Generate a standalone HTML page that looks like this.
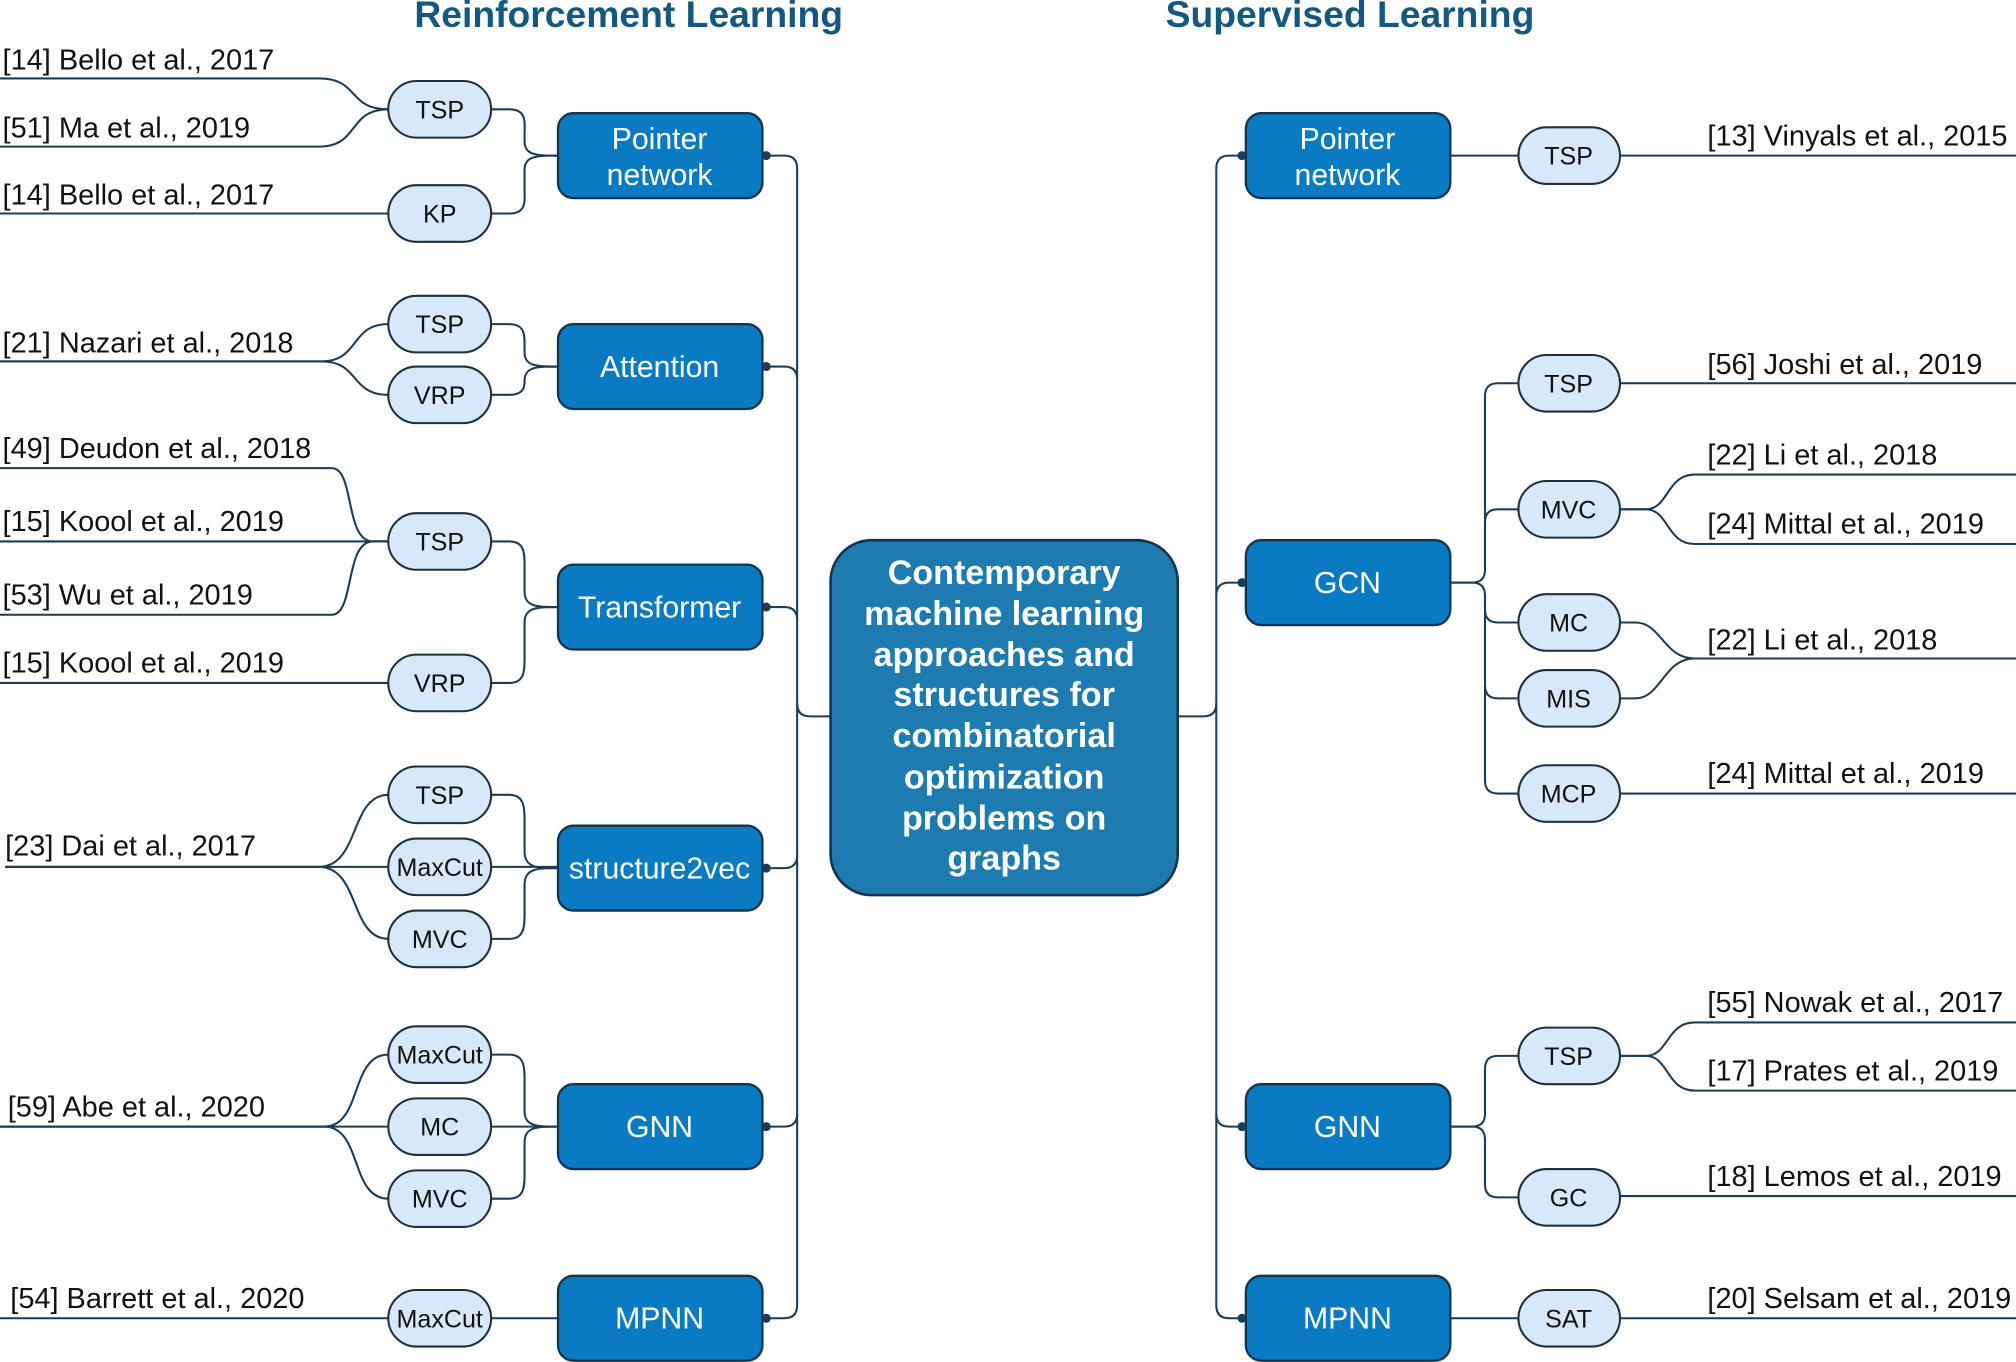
<!DOCTYPE html>
<html><head><meta charset="utf-8"><style>
html,body{margin:0;padding:0;background:#fff}
svg{display:block}
text{font-family:"Liberation Sans",Arial,sans-serif}
.ref{font-size:22.5px;fill:#111}
.nt{font-size:19.5px;fill:#111;text-anchor:middle}
.bt{font-size:23.5px;fill:#fff;text-anchor:middle}
.ln{fill:none;stroke:#1c3c56;stroke-width:1.6}
.node{fill:#d7e8fa;stroke:#1c3040;stroke-width:1.6}
.box{fill:#0a7bc2;stroke:#14344e;stroke-width:1.8}
</style></head><body>
<svg width="2016" height="1362" viewBox="0 0 1568 1059" preserveAspectRatio="none">
<text x="489" y="21" text-anchor="middle" style="font-size:29px;font-weight:bold;fill:#14577f">Reinforcement Learning</text>
<text x="1050" y="21" text-anchor="middle" style="font-size:29px;font-weight:bold;fill:#14577f">Supervised Learning</text>

<g class="ln">
<path d="M0,61 H248 C280,61 270,85 302,85"/>
<path d="M0,114 H248 C280,114 270,85 302,85"/>
<path d="M0,166 H302"/>
<path d="M0,281 H250 C280,281 272,252 302,252"/>
<path d="M0,281 H250 C280,281 272,307 302,307"/>
<path d="M0,364 H258 C276,364 268,421 290,421 H302"/>
<path d="M0,421 H302"/>
<path d="M0,478 H258 C276,478 268,421 290,421 H302"/>
<path d="M0,531 H302"/>
<path d="M4,674 H248 C280,674 272,618 302,618"/>
<path d="M4,674 H302"/>
<path d="M4,674 H248 C280,674 272,730 302,730"/>
<path d="M0,876 H252 C282,876 272,820 302,820"/>
<path d="M0,876 H302"/>
<path d="M0,876 H252 C282,876 272,932 302,932"/>
<path d="M0,1025 H302"/>
<path d="M382,85 H396 C410,85 408,95 408,105 V110 C408,121 418,121 434,121"/>
<path d="M382,166 H396 C410,166 408,156 408,146 V132 C408,121 418,121 434,121"/>
<path d="M382,252 H396 C408,252 408,260 408,268 V274 C408,285 418,285 434,285"/>
<path d="M382,307 H396 C408,307 408,300 408,296 V296 C408,285 418,285 434,285"/>
<path d="M382,421 H396 C408,421 408,430 408,440 V460 C408,472 418,472 434,472"/>
<path d="M382,531 H396 C408,531 408,522 408,510 V484 C408,472 418,472 434,472"/>
<path d="M382,618 H396 C408,618 408,628 408,640 V662 C408,675 418,675 434,675"/>
<path d="M382,674 H434"/>
<path d="M382,730 H396 C408,730 408,720 408,710 V688 C408,675 418,675 434,675"/>
<path d="M382,820 H396 C408,820 408,830 408,840 V864 C408,876 418,876 434,876"/>
<path d="M382,876 H434"/>
<path d="M382,932 H396 C408,932 408,922 408,912 V888 C408,876 418,876 434,876"/>
<path d="M382,1025 H434"/>
<path d="M596,121 H610 Q620,121 620,131 V1015 Q620,1025 610,1025 H596"/>
<path d="M596,285 H610 Q620,285 620,295"/>
<path d="M596,472 H610 Q620,472 620,482"/>
<path d="M596,675 H610 Q620,675 620,665"/>
<path d="M596,876 H610 Q620,876 620,866"/>
<path d="M620,547 Q620,557 630,557 H646"/>
<path d="M966,121 H956 Q946,121 946,131 V1015 Q946,1025 956,1025 H966"/>
<path d="M966,453 H956 Q946,453 946,463"/>
<path d="M966,876 H956 Q946,876 946,866"/>
<path d="M916,557 H936 Q946,557 946,547"/>
<path d="M1128,121 H1181"/>
<path d="M1128,453 H1145 Q1155,453 1155,443 V308 Q1155,298 1165,298 H1181"/>
<path d="M1155,406 Q1155,396 1165,396 H1181"/>
<path d="M1128,453 H1145 Q1155,453 1155,463 V607 Q1155,617 1165,617 H1181"/>
<path d="M1155,474 Q1155,484 1165,484 H1181"/>
<path d="M1155,533 Q1155,543 1165,543 H1181"/>
<path d="M1128,876 H1145 Q1155,876 1155,866 V831 Q1155,821 1165,821 H1181"/>
<path d="M1128,876 H1145 Q1155,876 1155,886 V921 Q1155,931 1165,931 H1181"/>
<path d="M1128,1025 H1181"/>
<path d="M1260,121 H1568"/>
<path d="M1260,298 H1568"/>
<path d="M1260,396 H1280 C1298,396 1296,369 1318,369 H1568"/>
<path d="M1260,396 H1280 C1298,396 1296,423 1318,423 H1568"/>
<path d="M1260,484 H1272 C1292,484 1294,512 1318,512 H1568"/>
<path d="M1260,543 H1272 C1292,543 1294,512 1318,512"/>
<path d="M1260,617 H1568"/>
<path d="M1260,821 H1280 C1298,821 1296,795 1318,795 H1568"/>
<path d="M1260,821 H1280 C1298,821 1296,848 1318,848 H1568"/>
<path d="M1260,930 H1568"/>
<path d="M1260,1025 H1568"/>
</g>

<g fill="#1c3c56">
<circle cx="596" cy="121" r="3.5"/><circle cx="596" cy="285" r="3.5"/><circle cx="596" cy="472" r="3.5"/>
<circle cx="596" cy="675" r="3.5"/><circle cx="596" cy="876" r="3.5"/><circle cx="596" cy="1025" r="3.5"/>
<circle cx="966" cy="121" r="3.5"/><circle cx="966" cy="453" r="3.5"/><circle cx="966" cy="876" r="3.5"/><circle cx="966" cy="1025" r="3.5"/>
</g>

<g class="ref">
<text x="2" y="54">[14] Bello et al., 2017</text>
<text x="2" y="107">[51] Ma et al., 2019</text>
<text x="2" y="159">[14] Bello et al., 2017</text>
<text x="2" y="274">[21] Nazari et al., 2018</text>
<text x="2" y="356">[49] Deudon et al., 2018</text>
<text x="2" y="413">[15] Koool et al., 2019</text>
<text x="2" y="470">[53] Wu et al., 2019</text>
<text x="2" y="523">[15] Koool et al., 2019</text>
<text x="4" y="665">[23] Dai et al., 2017</text>
<text x="6" y="868">[59] Abe et al., 2020</text>
<text x="8" y="1017">[54] Barrett et al., 2020</text>
<text x="1328" y="113">[13] Vinyals et al., 2015</text>
<text x="1328" y="291">[56] Joshi et al., 2019</text>
<text x="1328" y="361">[22] Li et al., 2018</text>
<text x="1328" y="415">[24] Mittal et al., 2019</text>
<text x="1328" y="505">[22] Li et al., 2018</text>
<text x="1328" y="609">[24] Mittal et al., 2019</text>
<text x="1328" y="787">[55] Nowak et al., 2017</text>
<text x="1328" y="840">[17] Prates et al., 2019</text>
<text x="1328" y="922">[18] Lemos et al., 2019</text>
<text x="1328" y="1017">[20] Selsam et al., 2019</text>
</g>

<g>
<rect class="node" x="302" y="63" width="80" height="44" rx="22"/><text class="nt" x="342" y="92">TSP</text>
<rect class="node" x="302" y="144" width="80" height="44" rx="22"/><text class="nt" x="342" y="173">KP</text>
<rect class="node" x="302" y="230" width="80" height="44" rx="22"/><text class="nt" x="342" y="259">TSP</text>
<rect class="node" x="302" y="285" width="80" height="44" rx="22"/><text class="nt" x="342" y="314">VRP</text>
<rect class="node" x="302" y="399" width="80" height="44" rx="22"/><text class="nt" x="342" y="428">TSP</text>
<rect class="node" x="302" y="509" width="80" height="44" rx="22"/><text class="nt" x="342" y="538">VRP</text>
<rect class="node" x="302" y="596" width="80" height="44" rx="22"/><text class="nt" x="342" y="625">TSP</text>
<rect class="node" x="302" y="652" width="80" height="44" rx="22"/><text class="nt" x="342" y="681">MaxCut</text>
<rect class="node" x="302" y="708" width="80" height="44" rx="22"/><text class="nt" x="342" y="737">MVC</text>
<rect class="node" x="302" y="798" width="80" height="44" rx="22"/><text class="nt" x="342" y="827">MaxCut</text>
<rect class="node" x="302" y="854" width="80" height="44" rx="22"/><text class="nt" x="342" y="883">MC</text>
<rect class="node" x="302" y="910" width="80" height="44" rx="22"/><text class="nt" x="342" y="939">MVC</text>
<rect class="node" x="302" y="1003" width="80" height="44" rx="22"/><text class="nt" x="342" y="1032">MaxCut</text>
</g>
<g>
<rect class="node" x="1181" y="99" width="79" height="44" rx="22"/><text class="nt" x="1220" y="128">TSP</text>
<rect class="node" x="1181" y="276" width="79" height="44" rx="22"/><text class="nt" x="1220" y="305">TSP</text>
<rect class="node" x="1181" y="374" width="79" height="44" rx="22"/><text class="nt" x="1220" y="403">MVC</text>
<rect class="node" x="1181" y="462" width="79" height="44" rx="22"/><text class="nt" x="1220" y="491">MC</text>
<rect class="node" x="1181" y="521" width="79" height="44" rx="22"/><text class="nt" x="1220" y="550">MIS</text>
<rect class="node" x="1181" y="595" width="79" height="44" rx="22"/><text class="nt" x="1220" y="624">MCP</text>
<rect class="node" x="1181" y="799" width="79" height="44" rx="22"/><text class="nt" x="1220" y="828">TSP</text>
<rect class="node" x="1181" y="909" width="79" height="44" rx="22"/><text class="nt" x="1220" y="938">GC</text>
<rect class="node" x="1181" y="1003" width="79" height="44" rx="22"/><text class="nt" x="1220" y="1032">SAT</text>
</g>

<rect class="box" x="434" y="88" width="159" height="66" rx="12"/><text class="bt" x="513" y="116">Pointer</text><text class="bt" x="513" y="144">network</text>
<rect class="box" x="434" y="252" width="159" height="66" rx="12"/><text class="bt" x="513" y="293">Attention</text>
<rect class="box" x="434" y="439" width="159" height="66" rx="12"/><text class="bt" x="513" y="480">Transformer</text>
<rect class="box" x="434" y="642" width="159" height="66" rx="12"/><text class="bt" x="513" y="683">structure2vec</text>
<rect class="box" x="434" y="843" width="159" height="66" rx="12"/><text class="bt" x="513" y="884">GNN</text>
<rect class="box" x="434" y="992" width="159" height="66" rx="12"/><text class="bt" x="513" y="1033">MPNN</text>
<rect class="box" x="969" y="88" width="159" height="66" rx="12"/><text class="bt" x="1048" y="116">Pointer</text><text class="bt" x="1048" y="144">network</text>
<rect class="box" x="969" y="420" width="159" height="66" rx="12"/><text class="bt" x="1048" y="461">GCN</text>
<rect class="box" x="969" y="843" width="159" height="66" rx="12"/><text class="bt" x="1048" y="884">GNN</text>
<rect class="box" x="969" y="992" width="159" height="66" rx="12"/><text class="bt" x="1048" y="1033">MPNN</text>

<rect x="646" y="420" width="270" height="276" rx="32" fill="#1e7bb0" stroke="#14344e" stroke-width="2"/>
<g style="font-size:26.5px;font-weight:bold;fill:#fff" text-anchor="middle">
<text x="781" y="454">Contemporary</text>
<text x="781" y="486">machine learning</text>
<text x="781" y="518">approaches and</text>
<text x="781" y="549">structures for</text>
<text x="781" y="581">combinatorial</text>
<text x="781" y="613">optimization</text>
<text x="781" y="645">problems on</text>
<text x="781" y="676">graphs</text>
</g>
</svg>
</body></html>
